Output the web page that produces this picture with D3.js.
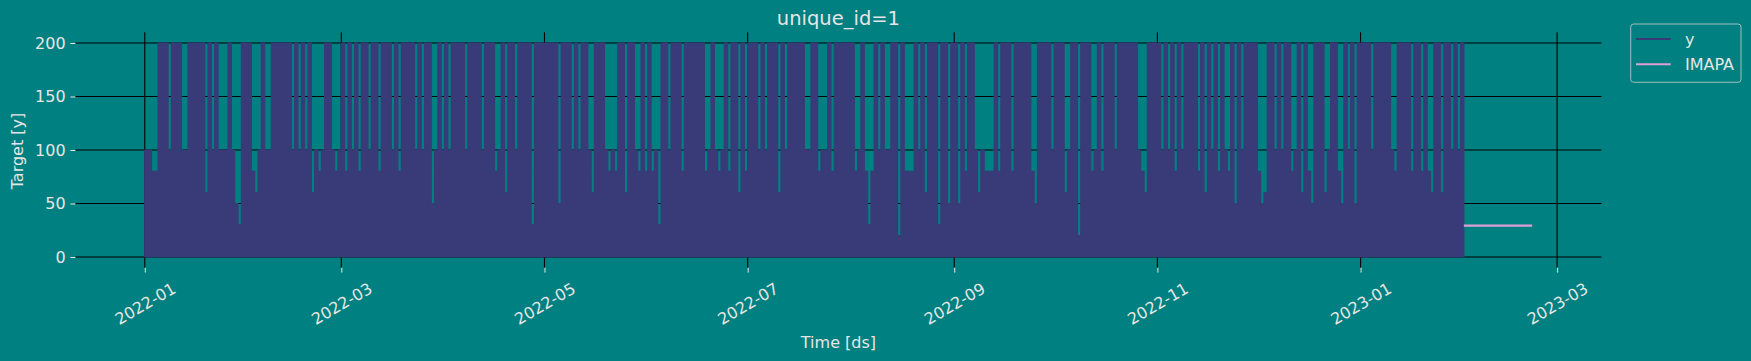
<!DOCTYPE html>
<html>
<head>
<meta charset="utf-8">
<script src="https://cdn.jsdelivr.net/npm/d3@7"></script>
<style>
html,body{margin:0;padding:0;background:#008080;}
svg{display:block;}
text{font-family:"DejaVu Sans",sans-serif;}
</style>
</head>
<body>
<svg id="chart" width="1751" height="361"></svg>
<script>
// ---------------- data ----------------
const seriesStart = "2022-01-01";          // first day of y (daily max of the observed series)
const yValues = [
 100,100,80,80,200,200,200,100,200,200, 200,100,100,200,200,200,200,200,60,200,
 100,200,100,100,100,200,100,50,30,200, 200,200,80,60,100,200,100,100,200,200,
 200,200,200,200,100,200,100,200,100,200, 60,100,80,100,200,200,
 100,80,100,200,80,200,100,200,80,200, 200,100,200,200,80,200,200,200,100,200,
 80,200,200,200,200,100,200,100,200,200, 50,100,200,100,200,100,200,200,200,200,
 100,200,200,200,200,100,200,200,200,80, 100,200,60,200,200,100,200,
 200,200,200,30,200,200,200,200,200,200, 200,50,200,200,200,100,200,100,200,200,
 100,60,200,200,200,100,80,100,80,200, 200,60,200,200,100,80,200,80,200,80,
 100,30,200,200,100,200,200,200,80,200, 200,200,200,200,200,80,100,
 200,100,80,100,200,80,200,200,60,200, 80,200,200,200,100,200,100,200,200,200,
 60,200,100,200,200,200,200,200,100,100, 200,200,80,100,100,200,80,200,200,200,
 200,200,200,80,100,200,80,30,80,200, 100,200,100,100,200,200,20,
 200,80,80,80,200,100,200,60,200,200, 200,30,200,200,50,200,200,50,200,80,
 200,200,100,60,100,80,80,80,200,80, 200,200,200,80,200,200,200,200,200,80,
 50,200,200,200,200,100,200,200,200,60, 100,200,200,20,200,200,200,
 80,100,200,80,200,200,200,100,200,200, 200,200,200,200,100,80,60,200,200,200,
 200,100,200,100,200,80,200,100,200,200, 200,200,80,200,60,200,100,200,80,200,
 100,80,200,50,200,100,200,200,200,200, 80,50,60,200,200,100,200,
 100,200,200,80,100,200,60,200,80,50, 200,200,200,60,100,200,200,80,50,200,
 100,200,50,200,200,200,200,100,200,200, 200,200,200,100,80,200,200,200,200,80,
 200,200,80,200,80,60,200,200,60,200, 200,100,200,100,200
];
const imapaStart = "2023-02-01";           // 12-hourly forecast steps
const imapaValues = [
 29.3,29.3,29.3,29.3,29.3,29.3,29.3,29.3,29.3,29.3,29.3,29.3,29.3,29.3,
 29.3,29.3,29.3,29.3,29.3,29.3,29.3,29.3,29.3,29.3,29.3,29.3,29.3,29.3,
 29.3,29.3,29.3,29.3,29.3,29.3,29.3,29.3,29.3,29.3,29.3,29.3,29.3,29.3
];
const xTickLabels = ["2022-01","2022-03","2022-05","2022-07","2022-09","2022-11","2023-01","2023-03"];
const yTickValues = [0, 50, 100, 150, 200];
const legendLabels = ["y", "IMAPA"];
const seriesColors = ["#393b79", "#de9ed6"];

// ---------------- layout ----------------
const plot = {left: 75.4, right: 1601.5, top: 32.3, bottom: 267.7};
const textColor = "#e6e6e6";
const svg = d3.select("#chart");

const parseDay = d3.utcParse("%Y-%m-%d");
const parseMonth = d3.utcParse("%Y-%m");
const fmtMonth = d3.utcFormat("%Y-%m");

const t0 = parseDay(seriesStart);
const yData = yValues.map((v, i) => ({date: d3.utcDay.offset(t0, i), value: v}));
const yStep = yData.concat([{date: d3.utcDay.offset(t0, yValues.length), value: yValues[yValues.length - 1]}]);

const f0 = parseDay(imapaStart);
const imapaData = imapaValues.map((v, i) => ({date: d3.utcHour.offset(f0, 12 * i), value: v}));

const firstT = +t0, lastT = +imapaData[imapaData.length - 1].date;
const span = lastT - firstT;
const x = d3.scaleUtc()
  .domain([new Date(firstT - 0.05 * span), new Date(lastT + 0.05 * span)])
  .range([plot.left, plot.right]);
const y = d3.scaleLinear().domain([-10, 210]).range([plot.bottom, plot.top]);

const xTicks = xTickLabels.map(parseMonth);

// grid (behind data)
const grid = svg.append("g");
grid.selectAll("line.gx").data(xTicks).join("line")
  .attr("x1", d => x(d)).attr("x2", d => x(d))
  .attr("y1", plot.top).attr("y2", plot.bottom)
  .attr("stroke", "#000").attr("stroke-width", 1.1);
grid.selectAll("line.gy").data(yTickValues).join("line")
  .attr("x1", plot.left).attr("x2", plot.right)
  .attr("y1", d => y(d)).attr("y2", d => y(d))
  .attr("stroke", "#000").attr("stroke-width", 1.1);

// y series
const area = d3.area()
  .x(d => x(d.date)).y0(y(0)).y1(d => y(d.value))
  .curve(d3.curveStepAfter);
svg.append("path").datum(yStep)
  .attr("d", area)
  .attr("fill", seriesColors[0])
  .attr("stroke", seriesColors[0]).attr("stroke-width", 1.2)
  .attr("stroke-linejoin", "miter");

// IMAPA forecast
const line = d3.line().x(d => x(d.date)).y(d => y(d.value));
svg.append("path").datum(imapaData)
  .attr("d", line).attr("fill", "none")
  .attr("stroke", seriesColors[1]).attr("stroke-width", 2.1);

// axes
const yAxis = svg.append("g").attr("transform", `translate(${plot.left},0)`)
  .call(d3.axisLeft(y).tickValues(yTickValues).tickSize(4.9).tickPadding(4.9));
yAxis.select(".domain").remove();
yAxis.selectAll(".tick line").attr("stroke", textColor).attr("stroke-width", 1);
yAxis.selectAll(".tick text").attr("fill", textColor)
  .style("font-size", "16px").style("font-family", "DejaVu Sans");

const xAxis = svg.append("g").attr("transform", `translate(0,${plot.bottom})`)
  .call(d3.axisBottom(x).tickValues(xTicks).tickFormat(fmtMonth).tickSize(4.9));
xAxis.select(".domain").remove();
xAxis.selectAll(".tick line").attr("stroke", textColor).attr("stroke-width", 1);
xAxis.selectAll(".tick text")
  .attr("fill", textColor)
  .attr("y", 0).attr("dy", "0.35em")
  .attr("text-anchor", "middle")
  .attr("transform", "translate(0,36) rotate(-30)")
  .style("font-size", "16px").style("font-family", "DejaVu Sans");

// labels
svg.append("text").attr("x", (plot.left + plot.right) / 2).attr("y", 24.5)
  .attr("text-anchor", "middle").attr("fill", textColor)
  .style("font-size", "19.5px").text("unique_id=1");
svg.append("text").attr("x", (plot.left + plot.right) / 2).attr("y", 347.5)
  .attr("text-anchor", "middle").attr("fill", textColor)
  .style("font-size", "16px").text("Time [ds]");
svg.append("text").attr("transform", `translate(23,${(plot.top + plot.bottom) / 2 + 1}) rotate(-90)`)
  .attr("text-anchor", "middle").attr("fill", textColor)
  .style("font-size", "16px").text("Target [y]");

// legend
const lg = svg.append("g");
lg.append("rect").attr("x", 1630.7).attr("y", 24).attr("width", 110.3).attr("height", 58.3)
  .attr("rx", 3).attr("fill", "#008080").attr("stroke", "#a3bdbd").attr("stroke-width", 1);
const rows = lg.selectAll("g.row").data(legendLabels).join("g")
  .attr("transform", (d, i) => `translate(0,${39 + i * 25.3})`);
rows.append("line").attr("x1", 1636).attr("x2", 1670.7).attr("y1", 0).attr("y2", 0)
  .attr("stroke", (d, i) => seriesColors[i]).attr("stroke-width", 2.1);
rows.append("text").attr("x", 1685).attr("y", 0).attr("dy", "0.35em")
  .attr("fill", textColor).style("font-size", "16px").text(d => d);
</script>
</body>
</html>
